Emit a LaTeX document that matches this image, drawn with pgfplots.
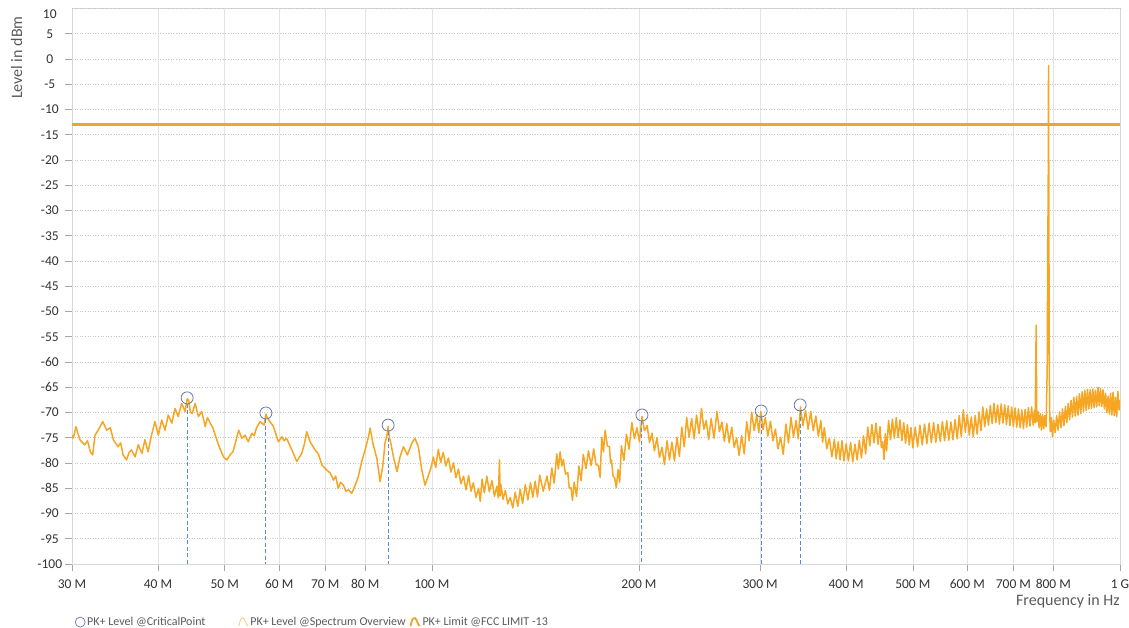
\documentclass[border=0pt]{standalone}
\usepackage{fontspec}
\setmainfont{Carlito}
\usepackage{pgfplots}
\pgfplotsset{compat=1.18}
\definecolor{spec}{RGB}{246,166,35}
\definecolor{limitc}{RGB}{239,163,48}
\definecolor{crit}{RGB}{105,120,170}
\definecolor{dashc}{RGB}{88,138,222}
\definecolor{gridc}{RGB}{228,228,228}
\definecolor{axc}{RGB}{215,215,215}
\definecolor{labc}{RGB}{51,51,51}
\definecolor{legc}{RGB}{90,90,90}
\definecolor{legspec}{RGB}{240,208,120}
\pgfplotsset{wave legend/.style={legend image code/.code={
  \draw[##1] (0pt,-4pt) .. controls (1.5pt,4pt) and (3pt,5pt) .. (4.5pt,4pt) .. controls (6pt,3pt) and (7pt,-2pt) .. (9pt,-4pt);}}}

\begin{document}
\begin{tikzpicture}
\path[use as bounding box] (-72pt,-64pt) rectangle (1057pt,564pt);
\begin{axis}[
  name=ax, at={(0pt,0pt)}, anchor=south west,
  scale only axis, width=1048pt, height=555.5pt,
  xmode=log, xmin=30, xmax=1000, ymin=-100, ymax=10,
  axis line style={axc, line width=0.6pt},
  tick pos=left, tick align=outside,
  major tick length=7pt, xminorticks=false, yminorticks=false,
  tick style={color=gray!70, line width=0.6pt},
  xtick={30,40,50,60,70,80,100,200,300,400,500,600,700,800,1000},
  xticklabels={30 M,40 M,50 M,60 M,70 M,80 M,100 M,200 M,300 M,400 M,500 M,600 M,700 M,800 M,1 G},
  ytick={-100,-95,...,5},
  yticklabels={-100,-95,-90,-85,-80,-75,-70,-65,-60,-55,-50,-45,-40,-35,-30,-25,-20,-15,-10,-5,0,5},
  extra y ticks={10}, extra y tick labels={10},
  extra y tick style={major tick length=0pt, yticklabel style={yshift=-6pt, xshift=-7pt}},
  ticklabel style={font=\fontsize{13.5}{15}\selectfont, color=labc},
  xticklabel style={yshift=-5pt},
  yticklabel style={text width=28pt, align=center, inner xsep=1pt},
  xmajorgrids, ymajorgrids,
  major x grid style={gridc, line width=0.6pt},
  major y grid style={gray!45, line width=0.6pt, dotted},
  xlabel={Frequency in Hz},
  xlabel style={at={(axis description cs:1.003,-0.0665)}, anchor=east, font=\fontsize{16}{18}\selectfont, color=legc},
  ylabel={Level in dBm},
  ylabel style={at={(axis description cs:-0.0528,0.992)}, anchor=east, font=\fontsize{16}{18}\selectfont, color=legc},
  legend style={at={(axis description cs:0,0)}, anchor=north west, xshift=0pt, yshift=-49pt,
    draw=none, fill=none, font=\fontsize{12}{14}\selectfont\color{legc},
    legend columns=3},
  legend cell align=left,
]
% spectrum overview
\addplot[spec, line width=1.5pt, line join=round, forget plot] coordinates {
(30,-74.5)(30.13,-75.1)(30.4,-72.8)(30.8,-75.4)(31.3,-76.4)(31.6,-75.6)(31.9,-77.8)(32.15,-78.4)(32.4,-74.5)(32.75,-73.5)
(33.25,-71.8)(33.7,-73.5)(34.1,-73.0)(34.45,-75.4)(35.0,-76.8)(35.3,-76.0)(35.6,-78.4)(36.0,-79.4)(36.3,-78.0)(36.6,-77.4)
(37.05,-78.8)(37.45,-76.4)(37.9,-78.1)(38.3,-75.4)(38.7,-77.8)(39.15,-74.5)(39.6,-71.8)(40.05,-74.5)(40.5,-71.5)(40.95,-73.5)
(41.4,-70.5)(41.9,-72.1)(42.35,-69.2)(42.8,-70.8)(43.3,-68.2)(43.8,-69.8)(44.1,-67.3)(44.3,-67.5)(44.6,-70.0)(44.85,-70.2)
(45.3,-68.2)(45.8,-70.8)(46.3,-69.8)(46.85,-72.8)(47.2,-71.0)(47.65,-72.1)(48.05,-73.0)(48.45,-74.5)(49.1,-76.8)(49.8,-78.8)
(50.35,-79.4)(50.9,-78.4)(51.4,-77.8)(51.8,-76.1)(52.4,-73.5)(52.95,-75.1)(53.55,-74.5)(54.1,-75.8)(54.75,-74.1)(55.2,-74.6)
(55.6,-73.1)(56.3,-71.8)(57.05,-72.5)(57.4,-70.3)(57.55,-70.8)(58.35,-72.1)(58.8,-72.6)(59.2,-73.8)(59.85,-75.8)(60.55,-74.8)
(61.0,-75.6)(61.5,-75.1)(62.6,-77.4)(63.65,-79.7)(64.7,-78.1)(65.3,-76.2)(65.8,-73.8)(66.55,-75.8)(67.65,-77.4)(68.4,-78.2)
(69.25,-80.4)(70.35,-81.4)(71.2,-82.0)(71.95,-83.4)(72.5,-82.6)(73.1,-85.0)(73.7,-83.8)(74.4,-84.4)(75.0,-85.6)(75.65,-85.3)
(76.5,-86.0)(77.4,-84.4)(78.2,-82.7)(79.1,-79.7)(80.0,-77.4)(80.9,-74.8)(81.35,-73.1)(82.1,-76.1)(83.2,-79.1)(84.1,-83.7)
(84.85,-80.7)(85.5,-76.1)(86.2,-74.1)(86.4,-72.8)(86.75,-74.8)(87.3,-76.5)(87.95,-78.8)(89.0,-81.7)(89.9,-78.8)(90.95,-76.8)
(92.15,-78.4)(93.5,-76.1)(94.5,-75.1)(95.6,-76.8)(96.7,-81.4)(97.75,-84.4)(98.9,-82.4)(99.7,-81.0)
(100.5,-78.8)(101.3,-80.9)(102.2,-77.3)(103.0,-79.9)(103.9,-77.9)(104.8,-80.6)(105.7,-79.0)(106.6,-81.8)(107.5,-80.0)(108.4,-82.9)
(109.3,-81.2)(110.2,-84.1)(111.2,-82.6)(112.1,-85.3)(113.1,-82.5)(114.0,-85.6)(114.9,-83.9)(115.9,-86.8)(116.9,-85.0)(117.6,-87.6)
(118.3,-83.2)(119.2,-85.9)(120.2,-82.6)(121.2,-85.7)(122.3,-83.5)(123.3,-86.6)(124.3,-84.6)(124.9,-86.9)(125.4,-79.4)(125.7,-86.5)
(126.0,-84.2)(126.9,-87.2)(127.9,-85.4)(128.9,-88.1)(130,-86.8)(131.1,-88.9)(132.2,-85.8)(133.3,-88.6)(134.4,-85.2)(135.5,-88.0)
(136.7,-84.3)(137.9,-87.3)(139.1,-83.9)(140.2,-86.8)(141.3,-83.6)(142.4,-86.7)(143.5,-82.4)(145.2,-85.6)(147.0,-82.6)(148.2,-85.4)
(149.4,-81.0)(150.6,-84.0)(151.9,-78.2)(152.7,-81.2)(153.6,-77.8)(154.5,-80.6)(155.3,-79.3)(156.4,-82.2)(157.6,-81.9)(158.4,-85.0)
(159.3,-84.9)(160.1,-87.4)(161.0,-83.8)(162.3,-86.6)(163.6,-80.6)(164.8,-83.5)(166.0,-78.3)(167.5,-81.1)(168.9,-77.6)(170.4,-80.5)
(171.9,-77.2)(173.2,-80.3)(174.6,-80.5)(175.6,-82.8)(176.6,-74.9)(177.6,-77.8)(178.6,-73.5)(179.9,-76.6)(181.2,-76.8)(181.8,-79.9)
(182.4,-79.4)(183.4,-82.6)(184.4,-83.0)(185.4,-84.9)(186.5,-81.3)(187.5,-83.8)(188.6,-76.6)(190.2,-79.5)(191.8,-74.3)(193.5,-77.3)
(195.3,-72.0)(197.0,-75.2)(198.6,-73.0)(200.3,-75.8)(202.0,-70.8)(203.7,-73.6)(205.5,-72.6)(207.2,-75.9)(208.9,-74.1)(210.6,-77.6)
(212.4,-75.0)(214.2,-78.9)(216.0,-76.9)(217.8,-80.3)(219.7,-75.6)(221.5,-79.4)(223.3,-75.9)(225.2,-79.6)(227.1,-74.9)(228.9,-78.7)
(230.8,-72.9)(232.7,-76.8)(234.6,-71.0)(236.5,-74.9)(238.5,-71.2)(240.5,-75.2)(242.5,-70.5)(244.5,-74.2)(246.5,-69.2)(248.5,-73.3)
(250.5,-71.6)(252.5,-75.4)(254.6,-71.2)(257.1,-75.1)(259.6,-69.8)(261.8,-73.8)(264.0,-71.9)(266.1,-75.7)(268.3,-72.2)(270.5,-76.0)
(272.8,-72.9)(275.0,-76.9)(277.3,-75.0)(279.6,-78.5)(282.0,-74.6)(284.4,-78.2)(286.8,-71.8)(289.2,-75.6)(291.6,-69.9)(294.1,-73.6)
(296.6,-70.4)(298.6,-74.0)(300.7,-69.8)(302.9,-73.4)(305.2,-71.0)(307.8,-74.7)(310.5,-71.7)(313.1,-75.6)(315.7,-73.3)(318.4,-77.2)
(321.2,-74.9)(324.1,-78.3)(327.0,-72.3)(329.8,-76.0)(332.6,-71.0)(335.4,-74.9)(338.3,-71.6)(340.8,-75.2)(343.3,-68.9)(346.2,-72.6)
(349.2,-69.6)(352.2,-73.3)(355.3,-69.8)(358.4,-73.6)(361.5,-70.7)(364.5,-74.7)(367.6,-71.6)(369.7,-75.9)(371.8,-73.0)(375.0,-77.2)
(378.2,-75.1)(381.4,-78.8)(384.7,-75.3)(387.0,-79.2)(389.5,-75.8)(392.0,-79.4)(394.5,-75.6)(397.2,-79.6)
(400,-76.2)(403,-79.6)(406,-75.9)(409,-79.8)(412,-76.3)(415,-79.4)(418,-75.5)(421,-79.0)(424,-74.6)(427,-78.2)
(430,-72.9)(433,-76.6)(436,-72.4)(439,-76.0)(442,-72.1)(445,-76.3)(448,-72.8)(450,-76.9)(452,-75.8)(454,-79.3)
(456,-74.2)(458,-77.6)(461,-71.6)(464,-75.4)(467,-71.3)(470,-75.1)(473,-71.0)(476,-75.0)(479,-71.5)(482,-75.6)
(485,-72.0)(488,-76.1)(491,-72.4)(494,-76.4)(497,-73.0)(500,-77.0)(504,-72.9)(508,-76.8)(512,-72.5)(516,-76.4)
(520,-72.3)(524,-76.2)(528,-72.1)(532,-76.0)(536,-72.0)(540,-75.9)(544,-72.3)(548,-75.7)(552,-71.8)(556,-75.6)
(560,-71.6)(564,-75.5)(568,-71.9)(572,-75.4)(576,-71.4)(580,-75.2)(584,-70.6)(588,-74.8)(592,-69.5)(596,-73.9)
(600,-70.4)(604,-74.5)(608,-70.9)(612,-74.8)(616,-70.6)(620,-74.3)(624,-69.9)(628,-73.6)(632,-68.9)(636,-72.8)
(640,-69.3)(644,-72.5)(648,-68.6)(652,-72.2)(656,-68.2)(660,-72.0)(664,-68.5)(668,-72.3)(672,-68.3)(676,-72.1)
(680,-68.5)(684,-72.4)(688,-68.7)(692,-72.6)(696,-68.9)(700,-72.8)(704,-69.1)(708,-72.9)(712,-69.3)(716,-73.0)
(720,-69.5)(724,-73.2)(728,-69.4)(732,-72.9)(736,-69.0)(740,-72.7)(744,-68.9)(748,-72.5)(751,-69.6)(753,-72.0)
(755.5,-52.7)(757,-71.8)(760,-69.8)(763,-73.0)(766,-70.2)(769,-73.5)(772,-70.4)(775,-73.2)(778,-70.6)(781,-72.8)
(784,-61.0)(785.5,-34.0)(786.5,-29.0)(787.4,-1.3)(788.3,-31.0)(789.3,-58.0)(790.5,-70.0)(792,-73.8)(795,-71.0)(798,-74.8)
(801,-71.5)(805,-74.0)(809,-70.6)(813,-73.5)(817,-69.9)(821,-73.0)(825,-69.3)(829,-72.6)(833,-68.8)(837,-72.0)
(841,-68.2)(845,-71.4)(849,-67.6)(853,-70.9)(857,-67.0)(861,-70.7)(865,-66.8)(869,-70.5)(873,-66.3)(877,-70.2)
(881,-65.9)(885,-69.8)(889,-65.6)(893,-69.6)(897,-65.4)(901,-69.3)(905,-65.5)(909,-69.2)(913,-65.3)(917,-69.0)
(921,-65.6)(925,-68.9)(929,-65.0)(933,-68.7)(937,-65.2)(941,-68.8)(945,-65.5)(949,-69.3)(953,-66.2)(957,-70.0)
(961,-66.8)(965,-70.3)(969,-66.2)(973,-70.5)(977,-66.0)(981,-70.6)(985,-67.0)(989,-70.8)(993,-65.8)(997,-69.5)
(1000,-67.5)
};
% FCC limit
\addplot[limitc, line width=2.6pt, forget plot] coordinates {(30,-13)(1000,-13)};
% critical points: drop lines and circles
\addplot[dashc, line width=1pt, dash pattern=on 4pt off 2.5pt, forget plot] coordinates {(44.1,-68.3)(44.1,-100)};
\addplot[dashc, line width=1pt, dash pattern=on 4pt off 2.5pt, forget plot] coordinates {(57.4,-71.3)(57.4,-100)};
\addplot[dashc, line width=1pt, dash pattern=on 4pt off 2.5pt, forget plot] coordinates {(86.4,-73.7)(86.4,-100)};
\addplot[dashc, line width=1pt, dash pattern=on 4pt off 2.5pt, forget plot] coordinates {(202,-71.7)(202,-100)};
\addplot[dashc, line width=1pt, dash pattern=on 4pt off 2.5pt, forget plot] coordinates {(301,-70.9)(301,-100)};
\addplot[dashc, line width=1pt, dash pattern=on 4pt off 2.5pt, forget plot] coordinates {(343,-69.7)(343,-100)};
\addplot[only marks, mark=o, mark size=6pt, crit, mark options={line width=0.8pt}, forget plot]
  coordinates {(44.1,-67.1)(57.4,-70.1)(86.4,-72.5)(202,-70.5)(301,-69.7)(343,-68.5)};
% legend
\addlegendimage{only marks, mark=o, mark size=5pt, crit, mark options={line width=0.7pt}}
\addlegendentry{PK+ Level @CriticalPoint\rule{31pt}{0pt}}
\addlegendimage{legspec, line width=0.8pt, wave legend}
\addlegendentry{PK+ Level @Spectrum Overview\rule{2pt}{0pt}}
\addlegendimage{limitc, line width=1.8pt, wave legend}
\addlegendentry{PK+ Limit @FCC LIMIT -13}
\end{axis}
\end{tikzpicture}
\end{document}
